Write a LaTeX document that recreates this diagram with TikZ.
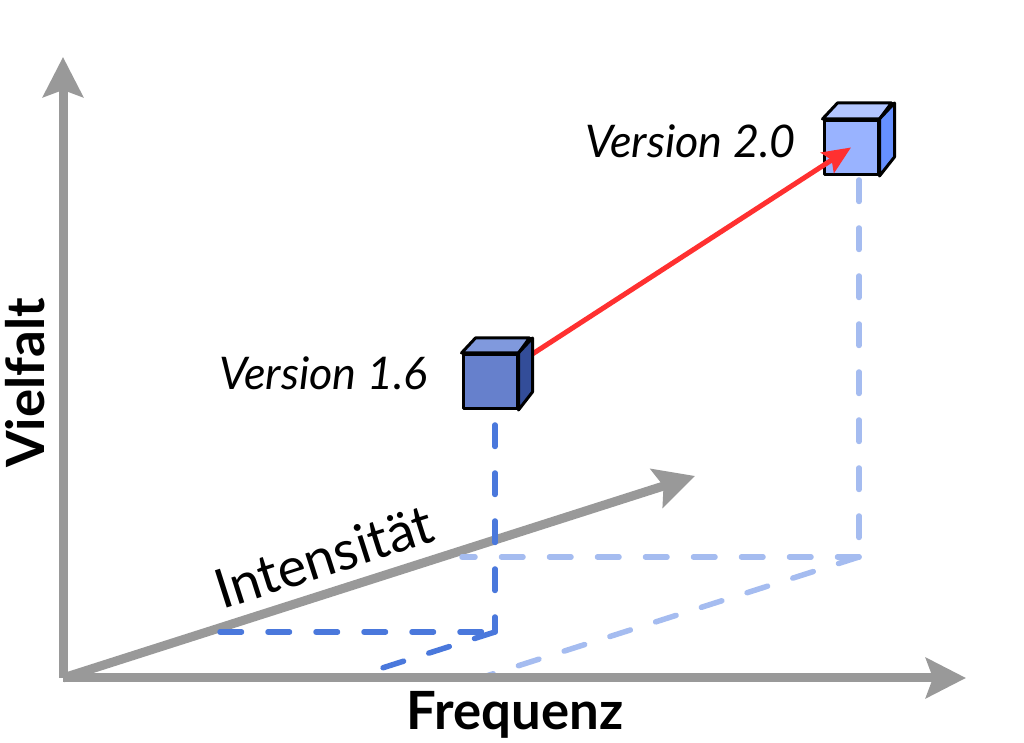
\documentclass[tikz,border=0pt]{standalone}
\usepackage{fontspec}
\setmainfont{Lato}
\usepackage{xcolor}
\usetikzlibrary{arrows.meta,positioning}

\definecolor{axisgray}{HTML}{999999}
\definecolor{oldblue}{HTML}{4A78DC}
\definecolor{newblue}{HTML}{A5BCF0}
\definecolor{oldfront}{HTML}{6680CC}
\definecolor{oldtop}{HTML}{8099DD}
\definecolor{oldside}{HTML}{334D99}
\definecolor{newfront}{HTML}{99B3FF}
\definecolor{newtop}{HTML}{B3C6FF}
\definecolor{newside}{HTML}{6690FF}
\definecolor{jump}{HTML}{FF3030}

\begin{document}
\begin{tikzpicture}[
    axis/.style={axisgray, line width=0.09cm, -{Stealth[length=0.40cm,width=0.40cm,inset=0.07cm]}},
    drop/.style={line width=0.055cm, line cap=round, dash pattern=on 0.215cm off 0.265cm},
    face/.style={draw=black, line width=0.03cm, line join=round},
    version/.style={font=\itshape\fontsize{12.8}{14}\selectfont, inner sep=0pt},
    axislabel/.style={font=\bfseries\fontsize{15}{18}\selectfont}
  ]
  \useasboundingbox (0,0) rectangle (10.24,7.43);

  % axes end points
  \coordinate (O) at (0.63,0.65);
  \coordinate (vtip) at (0.63,6.86);
  \coordinate (ftip) at (9.66,0.65);
  \coordinate (itip) at (6.95,2.67);

  % intensity axis lies under the drop lines
  \draw[axis] (O) -- node[sloped, above, pos=0.43, text=black, font=\fontsize{15.5}{18}\selectfont] (lint) {Intensität} (itip);

  % drop lines of version 1.6
  \coordinate (d16) at (4.95,3.18);
  \coordinate (f16) at (4.95,1.11);
  \coordinate (i16) at (2.20,1.11);
  \coordinate (x16) at (3.51,0.65);
  \draw[drop, oldblue] (d16) -- (f16);
  \draw[drop, oldblue] (i16) -- (f16);
  \draw[drop, oldblue] (f16) -- (x16);

  % drop lines of version 2.0
  \coordinate (d20) at (8.59,5.63);
  \coordinate (f20) at (8.59,1.86);
  \coordinate (i20) at (4.62,1.86);
  \coordinate (x20) at (4.80,0.65);
  \draw[drop, newblue] (d20) -- (f20);
  \draw[drop, newblue] (f20) -- (i20);
  \draw[drop, newblue] (f20) -- (x20);

  \draw[axis] (O) -- (vtip);
  \draw[axis] (O) -- (ftip);
  \node[axislabel, rotate=90] (lvar) at (0.25,3.60) {Vielfalt};
  \node[axislabel] (lfreq) at (5.15,0.28) {Frequenz};

  % version 2.0
  \node[face, fill=newfront, minimum size=0.54cm, inner sep=0pt] (v20) at (8.51,5.955) {};
  \draw[face, fill=newtop] (v20.north west) -- ++(0.15,0.16) -- ++(0.54,0) -- (v20.north east) -- cycle;
  \draw[face, fill=newside] (v20.north east) -- ++(0.15,0.16) -- ++(0,-0.54) -- (v20.south east) -- cycle;
  \node[version, anchor=base east] (l20) at ([xshift=-0.26cm,yshift=-0.10cm]v20.west) {Version 2.0};

  % the jump
  \coordinate (c16) at (4.90,3.615);
  \draw[jump, line width=0.05cm, -{Stealth[length=0.28cm,width=0.24cm,inset=0.05cm]}] (c16) -- (v20.center);

  % version 1.6
  \node[face, fill=oldfront, minimum size=0.54cm, inner sep=0pt] (v16) at (c16) {};
  \draw[face, fill=oldtop] (v16.north west) -- ++(0.14,0.15) -- ++(0.54,0) -- (v16.north east) -- cycle;
  \draw[face, fill=oldside] (v16.north east) -- ++(0.14,0.15) -- ++(0,-0.54) -- (v16.south east) -- cycle;
  \node[version, anchor=base east] (l16) at ([xshift=-0.33cm,yshift=-0.08cm]v16.west) {Version 1.6};
\end{tikzpicture}
\end{document}
